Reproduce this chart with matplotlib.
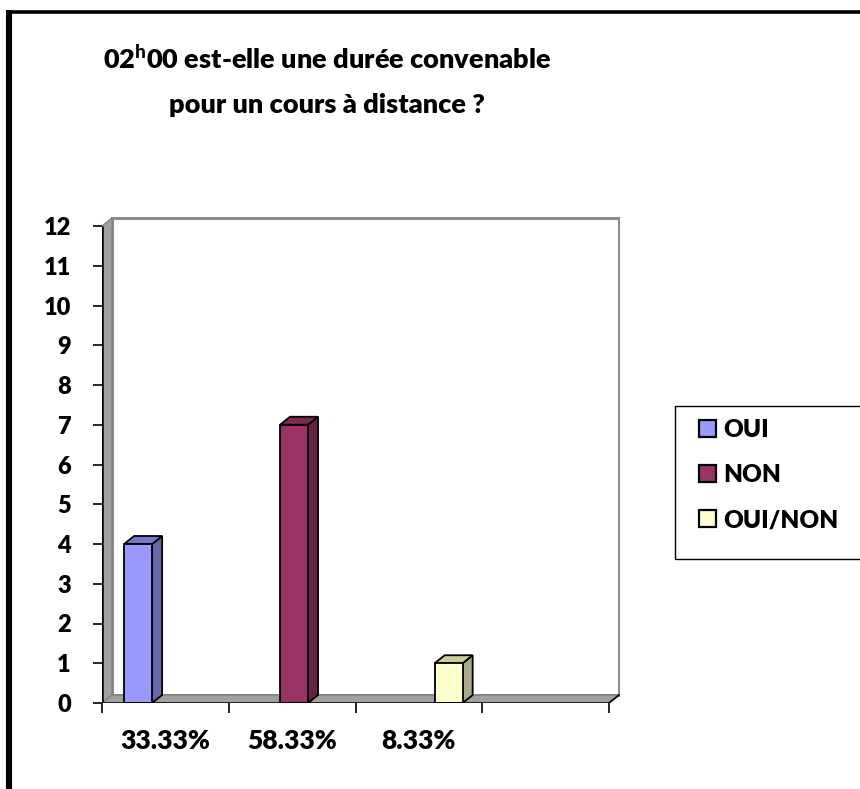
import matplotlib
matplotlib.use("Agg")
import matplotlib.pyplot as plt
from matplotlib.patches import Polygon, Patch, Rectangle
from matplotlib.lines import Line2D

plt.rcParams['font.family'] = ['Lato', 'DejaVu Sans']
plt.rcParams['mathtext.fontset'] = 'custom'
plt.rcParams['mathtext.bf'] = 'Lato:black'
plt.rcParams['mathtext.rm'] = 'Lato:black'

WEIGHT = "heavy"

# ---- data ----
categories = ["33.33%", "58.33%", "8.33%", ""]
series_names = ["OUI", "NON", "OUI/NON"]
series_values = [[4, 0, 0, 0], [0, 7, 0, 0], [0, 0, 1, 0]]
y_ticks = list(range(0, 13))
title_lines = ["02$^{\\mathbf{h}}$00 est-elle une durée convenable", "pour un cours à distance ?"]

front_colors = ["#9999FF", "#993366", "#FFFFCC"]
side_colors = ["#6666AA", "#662244", "#AAAA88"]
top_colors = ["#7777CC", "#7A2950", "#CCCC99"]

W, H = 860, 789
fig = plt.figure(figsize=(W / 100, H / 100), dpi=100)

# axes geometry (pixels)
x0, x_back_right, y0, y_top_back = 102, 620, 703, 217
px_per_x = (609 - 102) / 4.0
px_per_y = (703 - 226) / 12.0
ax = fig.add_axes([x0 / W, (H - y0) / H, (x_back_right - x0) / W, (y0 - y_top_back) / H])
ax.set_xlim(0, (x_back_right - x0) / px_per_x)
ax.set_ylim(0, (y0 - y_top_back) / px_per_y)
for s in ax.spines.values():
    s.set_visible(False)
ax.patch.set_alpha(0)

ncat = len(categories)
dx = 10 / px_per_x
dy = 8 / px_per_y
ymax = y_ticks[-1]

# walls
ax.add_patch(Polygon([(dx, dy), (ncat + dx, dy), (ncat + dx, ymax + dy), (dx, ymax + dy)],
                     closed=True, facecolor="white", edgecolor="#8C8C8C", lw=2.2, zorder=1))
ax.add_patch(Polygon([(0, 0), (0, ymax), (dx, ymax + dy), (dx, dy)],
                     closed=True, facecolor="#A0A0A0", edgecolor="#808080", lw=1, zorder=2))
ax.add_patch(Polygon([(0, 0), (ncat, 0), (ncat + dx, dy), (dx, dy)],
                     closed=True, facecolor="#A0A0A0", edgecolor="#808080", lw=1, zorder=2))
ax.plot([0, 0], [0, ymax], color="black", lw=1.8, zorder=6, solid_capstyle="butt")
ax.plot([0, ncat], [0, 0], color="black", lw=1.8, zorder=6, solid_capstyle="butt")
ax.plot([ncat, ncat + dx], [0, dy], color="black", lw=1.2, zorder=6)

# bars
bw = 28 / px_per_x
offsets = [-0.215, 0.015, 0.235]
for i, (name, vals) in enumerate(zip(series_names, series_values)):
    xs = [c + 0.5 + offsets[i] for c in range(ncat)]
    for xc, v in zip(xs, vals):
        if v <= 0:
            continue
        l, r = xc - bw / 2, xc + bw / 2
        ax.add_patch(Polygon([(r, 0), (r, v), (r + dx, v + dy), (r + dx, dy)], closed=True,
                             facecolor=side_colors[i], edgecolor="black", lw=1.3, zorder=4))
        ax.add_patch(Polygon([(l, v), (r, v), (r + dx, v + dy), (l + dx, v + dy)], closed=True,
                             facecolor=top_colors[i], edgecolor="black", lw=1.3, zorder=4))
    ax.bar(xs, vals, width=bw, color=front_colors[i],
           edgecolor=[("black" if v > 0 else "none") for v in vals], lw=1.3, zorder=5)

# ticks
ax.set_yticks(y_ticks)
ax.set_yticklabels([str(t) for t in y_ticks], fontsize=17, fontweight=WEIGHT)
ax.tick_params(axis="y", direction="out", length=6.5, width=1.2, pad=16)
ax.set_xticks(range(ncat + 1))
ax.set_xticklabels([])
ax.tick_params(axis="x", which="major", direction="out", length=7, width=1.2)
ax.set_xticks([c + 0.5 for c in range(ncat)], minor=True)
ax.set_xticklabels(categories, minor=True, fontsize=19, fontweight=WEIGHT)
ax.tick_params(axis="x", which="minor", length=0, pad=19)

fig.text(327 / W, 1 - 69 / H, title_lines[0], ha="center", va="baseline", fontsize=19.5,
         fontweight=WEIGHT)
fig.text(327 / W, 1 - 113 / H, title_lines[1], ha="center", va="baseline", fontsize=19.5,
         fontweight=WEIGHT)

# legend
fig.add_artist(Rectangle((675 / W, 1 - 559 / H), (870 - 675) / W, (559 - 406) / H,
                         transform=fig.transFigure, facecolor="white", edgecolor="black",
                         lw=1.0, zorder=0))
handles = [Patch(facecolor=c, edgecolor="black", lw=1.6) for c in front_colors]
leg = fig.legend(handles, series_names, loc="upper left",
                 bbox_to_anchor=(699 / W, 1 - 419 / H), frameon=False,
                 prop={"weight": WEIGHT, "size": 17.5}, handlelength=0.68, handleheight=0.68,
                 handletextpad=0.3, labelspacing=0.95, borderpad=0, borderaxespad=0)

# figure border (left and top)
fig.add_artist(Line2D([9 / W, 9 / W], [0, 1 - 10 / H], color="black", lw=4.4,
                      transform=fig.transFigure, solid_capstyle="butt"))
fig.add_artist(Line2D([6 / W, 1], [1 - 11.8 / H, 1 - 11.8 / H], color="black", lw=2.6,
                      transform=fig.transFigure, solid_capstyle="butt"))

fig.savefig("out.png", dpi=100, facecolor="white")
